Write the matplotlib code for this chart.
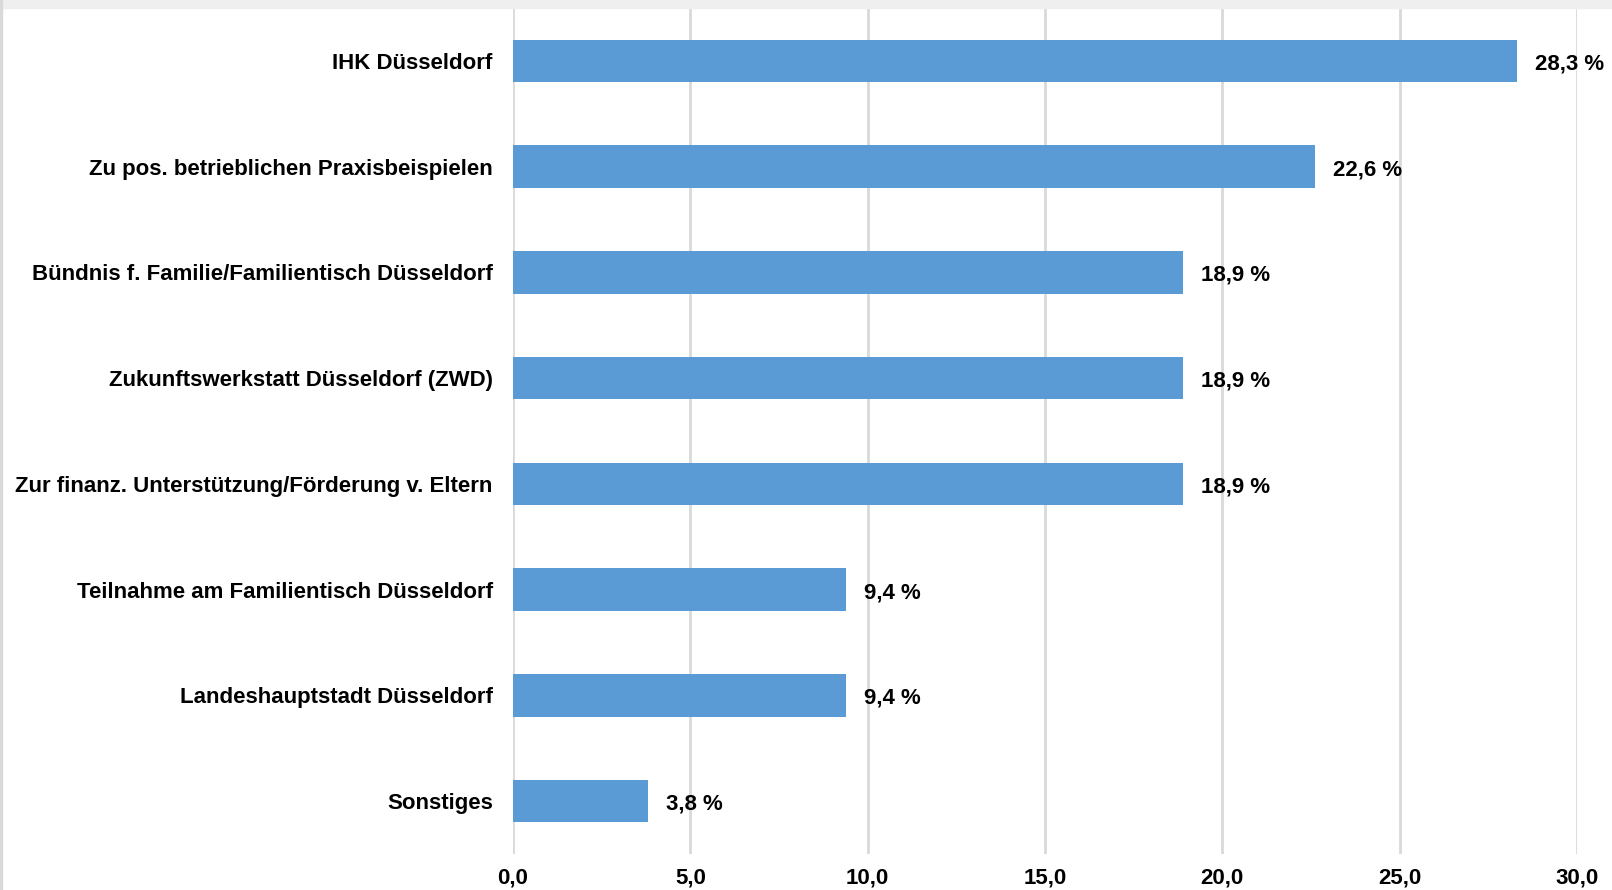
import matplotlib.pyplot as plt
from matplotlib.patches import Rectangle

# Kategorien und Anteile in Prozent (von oben nach unten)
categories = [
    "IHK Düsseldorf",
    "Zu pos. betrieblichen Praxisbeispielen",
    "Bündnis f. Familie/Familientisch Düsseldorf",
    "Zukunftswerkstatt Düsseldorf (ZWD)",
    "Zur finanz. Unterstützung/Förderung v. Eltern",
    "Teilnahme am Familientisch Düsseldorf",
    "Landeshauptstadt Düsseldorf",
    "Sonstiges",
]
values = [28.3, 22.6, 18.9, 18.9, 18.9, 9.4, 9.4, 3.8]
xticks = [0, 5, 10, 15, 20, 25, 30]

plt.rcParams['font.family'] = ['Liberation Sans', 'DejaVu Sans']

W, H = 1612, 890
fig = plt.figure(figsize=(W / 100, H / 100), dpi=100)
ax = fig.add_axes([513 / W, 1 - 854 / H, (1577 - 513) / W, (854 - 8) / H])

pos = list(range(len(categories)))
ax.barh(pos, values, height=0.4, color="#5b9bd5", zorder=3)
ax.set_ylim(len(categories) - 0.5, -0.5)
ax.set_xlim(0, 30)

ax.set_yticks(pos)
ax.set_yticklabels(categories, fontsize=16, fontweight="bold")
ax.set_xticks(xticks)
ax.set_xticklabels(["{:.1f}".format(t).replace(".", ",") for t in xticks],
                   fontsize=16, fontweight="bold")
ax.tick_params(length=0)
ax.tick_params(axis="y", pad=14.5)
ax.tick_params(axis="x", pad=10)

# Gitter und Rahmen
ax.grid(axis="x", color="#d9d9d9", linewidth=2, zorder=0)
for s in ax.spines.values():
    s.set_visible(False)

# Werte an den Balken
for p, v in zip(pos, values):
    ax.annotate("{:.1f} %".format(v).replace(".", ","), xy=(v, p),
                xytext=(18, -3), textcoords="offset pixels",
                va="center", ha="left", fontsize=16, fontweight="bold", zorder=4)

# grauer Streifen oben, feine Linie links
fig.patches.append(Rectangle((0, 1 - 8 / H), 1, 8 / H, transform=fig.transFigure,
                             color="#efefef", zorder=0))
fig.patches.append(Rectangle((0, 0), 1.5 / W, 1, transform=fig.transFigure,
                             color="#d9d9d9", zorder=0))

fig.savefig("out.png", dpi=100)
